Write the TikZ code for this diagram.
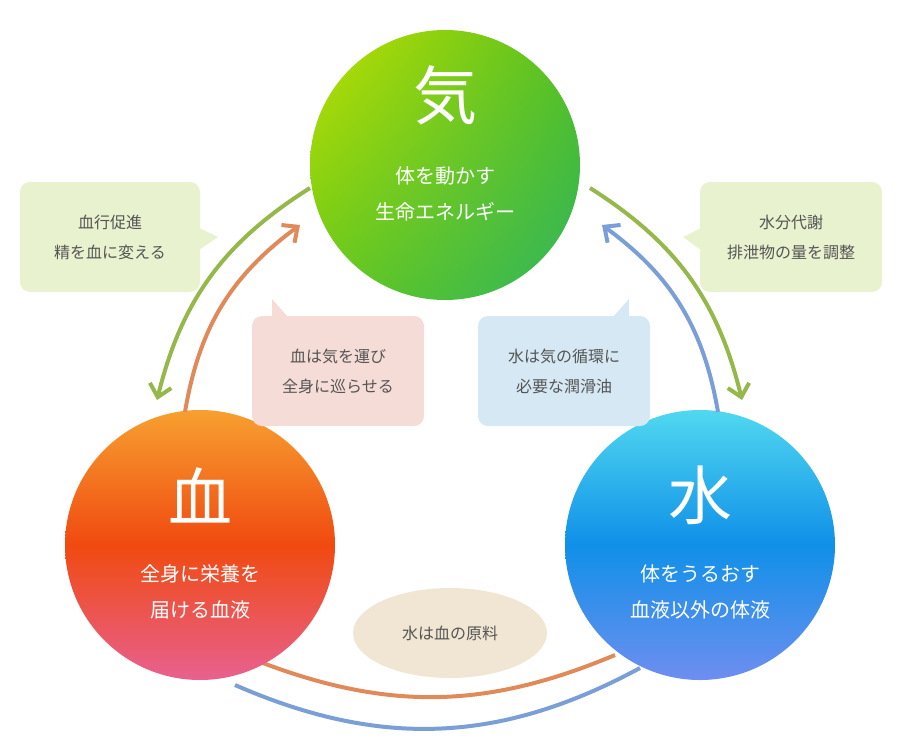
\documentclass[tikz,border=0pt]{standalone}
\usepackage{fontspec}
\setmainfont{Noto Sans CJK JP}
\usetikzlibrary{arrows.meta,shadings}
\definecolor{ag}{HTML}{95B84A}\definecolor{ao}{HTML}{E08A5A}\definecolor{ab}{HTML}{7A9ED6}
\definecolor{bg}{HTML}{E9F2CF}\definecolor{bp}{HTML}{F6DCD6}\definecolor{bb}{HTML}{D5E8F4}\definecolor{be}{HTML}{F1E6D3}
\definecolor{tx}{HTML}{555555}
\definecolor{g1}{HTML}{C0E000}\definecolor{g2}{HTML}{66C81A}\definecolor{g3}{HTML}{55C020}\definecolor{g4}{HTML}{30B560}
\definecolor{r1}{HTML}{F7A030}\definecolor{r2}{HTML}{F04A10}\definecolor{r3}{HTML}{E86090}
\definecolor{w1}{HTML}{50D8F0}\definecolor{w2}{HTML}{1090E8}\definecolor{w3}{HTML}{6E8EF0}
\begin{document}
\begin{tikzpicture}[x=1pt,y=-1pt,
 arr/.style={line width=4pt,-{Straight Barb[length=12pt,width=22pt,line width=4pt]}},
 ln/.style={line width=4pt},
 bt/.style={font=\fontsize{16}{30}\selectfont,text=tx,align=center},
 big/.style={font=\fontsize{64}{64}\selectfont,text=white},
 ct/.style={font=\fontsize{20}{36}\selectfont,text=white,align=center}]
\useasboundingbox (0,0) rectangle (900,750);
% bottom arcs
\coordinate (b1) at (615,655);\coordinate (b2) at (255,660);
\coordinate (b3) at (640,668);\coordinate (b4) at (235,685);
\draw[ln,ao] (b1) to[bend left=22] (b2);
\draw[ln,ab] (b3) to[bend left=26] (b4);
% circles
\shade[top color=r1,bottom color=r3,middle color=r2] (200,545) circle (135);
\node (xue) at (200,545) {};
\shade[top color=w1,bottom color=w3,middle color=w2] (700,545) circle (135);
\node (shui) at (700,545) {};
\shade[upper left=g1,upper right=g3,lower left=g2,lower right=g4] (445,165) circle (135);
\node (qi) at (445,165) {};
% circle text
\node[big] at (445,95) {気};
\node[ct] at (445,194) {体を動かす\\生命エネルギー};
\node[big] at (200,495) {血};
\node[ct] at (200,592) {全身に栄養を\\届ける血液};
\node[big] at (700,495) {水};
\node[ct] at (700,592) {体をうるおす\\血液以外の体液};
% side arrows
\coordinate (l1) at (310,188);\coordinate (l2) at (157,400);
\coordinate (l3) at (185,412);\coordinate (l4) at (300,225);
\coordinate (q1) at (590,188);\coordinate (q2) at (742,400);
\coordinate (q3) at (718,412);\coordinate (q4) at (602,225);
\draw[arr,ag] (l1) to[bend right=22] (l2);
\draw[arr,ao] (l3) to[bend left=22] (l4);
\draw[arr,ag] (q1) to[bend left=22] (q2);
\draw[arr,ab] (q3) to[bend right=22] (q4);
% callouts
\fill[bg,rounded corners=10pt] (20,182) rectangle (200,292);
\fill[bg] (199,228) -- (218,237) -- (199,250) -- cycle;
\node[bt] (c1) at (110,237) {血行促進\\精を血に変える};
\fill[bg,rounded corners=10pt] (700,182) rectangle (882,292);
\fill[bg] (701,228) -- (683,237) -- (701,250) -- cycle;
\node[bt] (c2) at (791,237) {水分代謝\\排泄物の量を調整};
\fill[bp,rounded corners=10pt] (252,316) rectangle (424,426);
\fill[bp] (272,317) -- (272,299) -- (288,317) -- cycle;
\node[bt] (c3) at (338,371) {血は気を運び\\全身に巡らせる};
\fill[bb,rounded corners=10pt] (478,316) rectangle (650,426);
\fill[bb] (613,317) -- (629,299) -- (629,317) -- cycle;
\node[bt] (c4) at (564,371) {水は気の循環に\\必要な潤滑油};
\fill[be] (450,633) ellipse (97 and 45);
\node[bt] (c5) at (450,633) {水は血の原料};
\end{tikzpicture}
\end{document}
